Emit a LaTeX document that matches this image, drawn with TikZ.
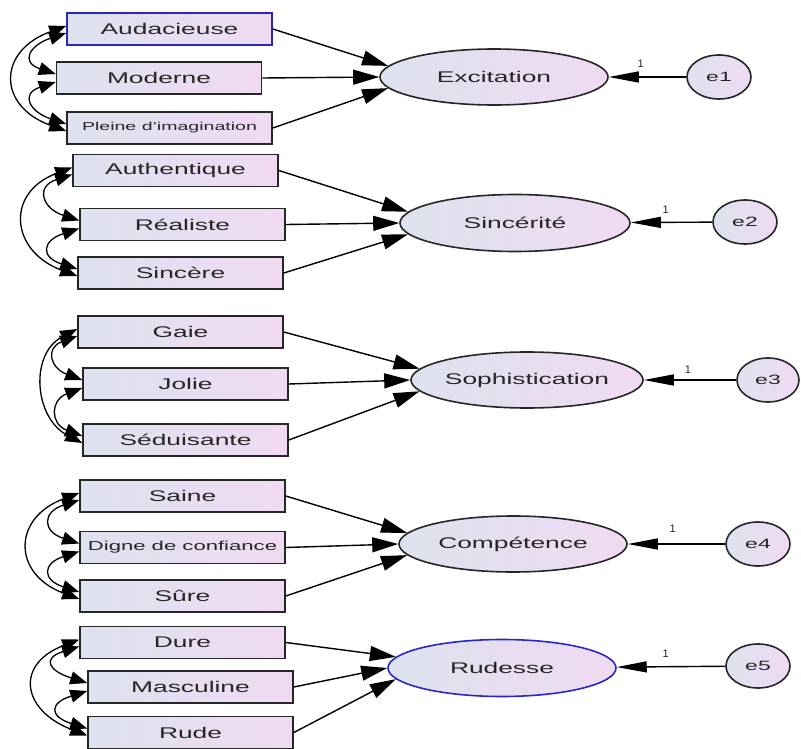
\documentclass[tikz,border=0pt]{standalone}
\usepackage{fontspec}
\setmainfont{Liberation Sans}
\usepackage{graphicx}
\usetikzlibrary{arrows.meta,shapes.geometric}
\definecolor{boxL}{HTML}{DDE2EE}
\definecolor{boxR}{HTML}{F0DAF2}
\definecolor{edgec}{HTML}{262626}
\definecolor{txtc}{HTML}{262626}
\definecolor{blueedge}{HTML}{2828C8}
\newcommand{\wx}[1]{\scalebox{1.7}[1]{#1}}
\newcommand{\covtrio}[5]{%
 \draw[cov] ([shift={(0,-3)}]#1.west) .. controls +(-#4,25) and +(-#4,-25) .. ([shift={(0,3)}]#3.west);
 \draw[cov] ([shift={(0,4)}]#1.west) .. controls +(-#5,12) and +(-#5,-12) .. ([shift={(0,-4)}]#2.west);
 \draw[cov] ([shift={(0,4)}]#2.west) .. controls +(-#5,12) and +(-#5,-12) .. ([shift={(0,-4)}]#3.west);
}
\begin{document}
\begin{tikzpicture}[x=1pt,y=-1pt,
  obs/.style={draw=edgec, line width=1.6pt, left color=boxL, right color=boxR,
    minimum width=205pt, minimum height=32pt, inner sep=0pt, text=txtc,
    font=\fontsize{15.5}{15.5}\selectfont},
  lat/.style={ellipse, draw=edgec, line width=1.6pt, left color=boxL, right color=boxR,
    minimum width=228pt, minimum height=56pt, inner sep=0pt, text=txtc,
    font=\fontsize{15.5}{15.5}\selectfont},
  err/.style={ellipse, draw=edgec, line width=1.6pt, left color=boxL, right color=boxR,
    minimum width=64pt, minimum height=44pt, inner sep=0pt, text=txtc,
    font=\fontsize{13.5}{13.5}\selectfont},
  path/.style={line width=1.4pt, draw=black, -{Triangle[length=26pt,width=15pt]}},
  epath/.style={line width=1.4pt, draw=black, -{Triangle[length=30pt,width=11pt]}},
  cov/.style={line width=1.3pt, draw=black, {Triangle[length=17pt,width=13pt]}-{Triangle[length=17pt,width=13pt]}},
  one/.style={font=\fontsize{11}{11}\selectfont, text=txtc, inner sep=0pt}]
\useasboundingbox (0,0) rectangle (801,749);

% Group 1
\node[obs, draw=blueedge] (aud) at (169.5,29) {\wx{Audacieuse}};
\node[obs] (mod) at (159,78) {\wx{Moderne}};
\node[obs, font=\fontsize{11.5}{11.5}\selectfont] (ple) at (169.5,128) {\wx{Pleine d'imagination}};
\node[lat] (exc) at (494,77) {\wx{Excitation}};
\node[err] (e1) at (719,77) {\wx{e1}};
\draw[path] (aud.east) -- (exc.174);
\draw[path] (mod.east) -- (exc.west);
\draw[path] (ple.east) -- (exc.186);
\draw[epath] (e1) -- (exc);
\node[one] at ([shift={(32,-13)}]exc.east) {1};
\covtrio{aud}{mod}{ple}{69}{36}

% Group 2
\node[obs] (aut) at (175.5,170.5) {\wx{Authentique}};
\node[obs] (rea) at (182.5,224.5) {\wx{Réaliste}};
\node[obs] (sic) at (180.5,273) {\wx{Sincère}};
\node[lat, minimum width=230pt, minimum height=57pt] (sin) at (515,223) {\wx{Sincérité}};
\node[err] (e2) at (745,222) {\wx{e2}};
\draw[path] (aut.east) -- (sin.174);
\draw[path] (rea.east) -- (sin.west);
\draw[path] (sic.east) -- (sin.186);
\draw[epath] (e2) -- (sin);
\node[one] at ([shift={(35,-13)}]sin.east) {1};
\covtrio{aut}{rea}{sic}{67}{37}

% Group 3
\node[obs] (gai) at (180.5,332) {\wx{Gaie}};
\node[obs] (jol) at (185.5,384) {\wx{Jolie}};
\node[obs] (sed) at (185.5,440) {\wx{Séduisante}};
\node[lat] (sop) at (527,380) {\wx{Sophistication}};
\node[err, minimum width=62pt] (e3) at (768,380) {\wx{e3}};
\draw[path] (gai.east) -- (sop.174);
\draw[path] (jol.east) -- (sop.west);
\draw[path] (sed.east) -- (sop.186);
\draw[epath] (e3) -- (sop);
\node[one] at ([shift={(44,-10)}]sop.east) {1};
\covtrio{gai}{jol}{sed}{48}{32}

% Group 4
\node[obs] (sai) at (182.5,496) {\wx{Saine}};
\node[obs, font=\fontsize{13}{13}\selectfont] (dig) at (182.5,547.5) {\wx{Digne de confiance}};
\node[obs] (sur) at (182.5,596) {\wx{Sûre}};
\node[lat] (com) at (513,544) {\wx{Compétence}};
\node[err] (e4) at (758,544) {\wx{e4}};
\draw[path] (sai.east) -- (com.174);
\draw[path] (dig.east) -- (com.west);
\draw[path] (sur.east) -- (com.186);
\draw[epath] (e4) -- (com);
\node[one] at ([shift={(45,-15)}]com.east) {1};
\covtrio{sai}{dig}{sur}{67}{37}

% Group 5
\node[obs] (dur) at (182.5,642.5) {\wx{Dure}};
\node[obs] (mas) at (190.5,687) {\wx{Masculine}};
\node[obs] (rud) at (190.5,732.5) {\wx{Rude}};
\node[lat, draw=blueedge, minimum height=57pt] (rds) at (502,668) {\wx{Rudesse}};
\node[err] (e5) at (758,666) {\wx{e5}};
\draw[path] (dur.east) -- (rds.174);
\draw[path] (mas.east) -- (rds.west);
\draw[path] (rud.east) -- (rds.186);
\draw[epath] (e5) -- (rds);
\node[one] at ([shift={(49,-14)}]rds.east) {1};
\covtrio{dur}{mas}{rud}{65}{38}
\end{tikzpicture}
\end{document}
